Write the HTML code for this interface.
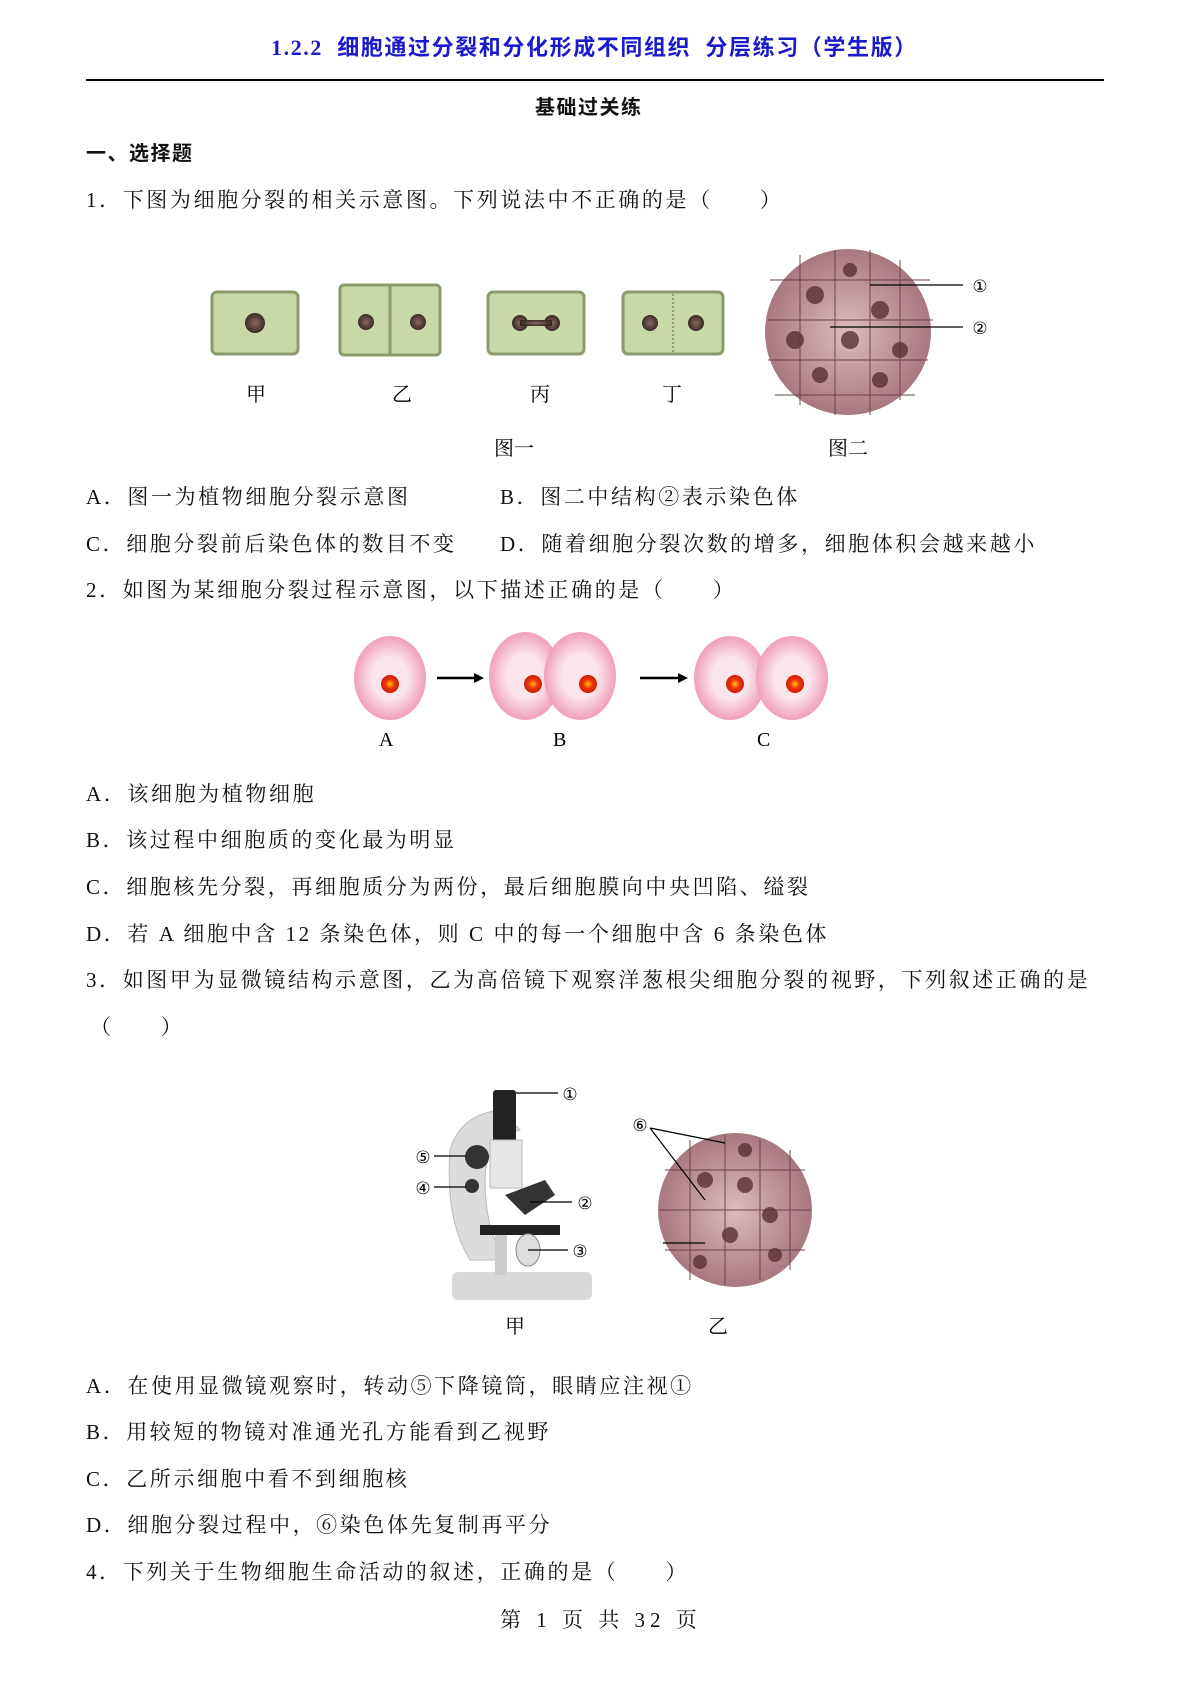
<!DOCTYPE html>
<html><head><meta charset="utf-8"><style>
body{margin:0;width:1190px;height:1682px;background:#fff;position:relative;overflow:hidden;font-family:"Liberation Serif","Noto Serif CJK SC",serif;color:#111}
.t{position:absolute;font-size:21px;white-space:nowrap;line-height:1;letter-spacing:2.6px}
.b{font-family:"Liberation Serif","Noto Sans CJK SC",sans-serif;font-weight:bold}
svg{position:absolute;left:0;top:0}
</style></head><body>
<div class="t b" style="left:271px;top:37px;color:#1a1acc;font-size:22px;letter-spacing:1.6px">1.2.2&nbsp; 细胞通过分裂和分化形成不同组织&nbsp; 分层练习（学生版）</div>
<div style="position:absolute;left:86px;top:79px;width:1018px;height:1.5px;background:#000"></div>
<div class="t b" style="left:535px;top:98px;font-size:20px;letter-spacing:1.5px">基础过关练</div>
<div class="t b" style="left:86px;top:144px;font-size:20px;letter-spacing:1.5px">一、选择题</div>
<div class="t" style="left:86px;top:190px">1．下图为细胞分裂的相关示意图。下列说法中不正确的是（　　）</div>

<svg width="1190" height="1682">
<defs>
<radialGradient id="nu"><stop offset="0" stop-color="#8a6a60"/><stop offset="1" stop-color="#3a2a25"/></radialGradient>
<radialGradient id="rn"><stop offset="0" stop-color="#ffcc00"/><stop offset="0.5" stop-color="#ee3311"/><stop offset="1" stop-color="#cc2200"/></radialGradient>
<radialGradient id="pk"><stop offset="0.5" stop-color="#fbe4ec"/><stop offset="1" stop-color="#f0a0b8"/></radialGradient>
<radialGradient id="mc"><stop offset="0" stop-color="#dcbcbc"/><stop offset="1" stop-color="#a87880"/></radialGradient>
</defs>
<g stroke="#8a9a6a" stroke-width="3" fill="#c8d8a8">
<rect x="212" y="292" width="86" height="62" rx="5"/>
<rect x="340" y="285" width="100" height="70" rx="4"/><line x1="390" y1="286" x2="390" y2="354"/>
<rect x="488" y="292" width="96" height="62" rx="5"/>
<rect x="623" y="292" width="100" height="62" rx="5"/>
</g>
<line x1="673" y1="294" x2="673" y2="352" stroke="#666" stroke-dasharray="2,2"/>
<g fill="url(#nu)">
<circle cx="255" cy="323" r="10"/><circle cx="366" cy="322" r="8"/><circle cx="418" cy="322" r="8"/>
<circle cx="520" cy="323" r="8"/><circle cx="552" cy="323" r="8"/><rect x="520" y="320" width="32" height="6"/>
<circle cx="650" cy="323" r="8"/><circle cx="696" cy="323" r="8"/>
</g>
<circle cx="848" cy="332" r="83" fill="url(#mc)"/>
<g stroke="#6a4048" stroke-width="1.2" fill="none" opacity="0.8">
<path d="M770 280h160M768 320h165M768 360h160M775 395h140M800 255v150M835 250v165M870 250v165M900 260v140"/>
</g>
<g fill="#5a3038" opacity="0.8"><circle cx="815" cy="295" r="9"/><circle cx="880" cy="310" r="9"/><circle cx="850" cy="340" r="9"/><circle cx="820" cy="375" r="8"/><circle cx="880" cy="380" r="8"/><circle cx="795" cy="340" r="9"/><circle cx="850" cy="270" r="7"/><circle cx="900" cy="350" r="8"/></g>
<g stroke="#000" stroke-width="1.2"><line x1="870" y1="285" x2="963" y2="285"/><line x1="830" y1="327" x2="963" y2="327"/></g>
<g font-size="17" text-anchor="middle" fill="#000" font-family="DejaVu Sans"><text x="980" y="292">①</text><text x="980" y="334">②</text></g>
<g font-size="20" fill="#000" font-family="Liberation Serif,Noto Serif CJK SC,serif">
<text x="246" y="401">甲</text><text x="392" y="401">乙</text><text x="530" y="401">丙</text><text x="662" y="401">丁</text>
<text x="494" y="455">图一</text><text x="828" y="455">图二</text>
</g>
<g fill="url(#pk)">
<ellipse cx="390" cy="678" rx="36" ry="42"/>
<ellipse cx="525" cy="676" rx="36" ry="44"/><ellipse cx="580" cy="676" rx="36" ry="44"/>
<ellipse cx="730" cy="678" rx="36" ry="42"/><ellipse cx="792" cy="678" rx="36" ry="42"/>
</g>
<g fill="url(#rn)"><circle cx="390" cy="684" r="9"/><circle cx="533" cy="684" r="9"/><circle cx="588" cy="684" r="9"/><circle cx="735" cy="684" r="9"/><circle cx="795" cy="684" r="9"/></g>
<g stroke="#000" stroke-width="2.5"><line x1="437" y1="678" x2="476" y2="678"/><line x1="640" y1="678" x2="680" y2="678"/></g>
<g fill="#000"><polygon points="484,678 474,673 474,683"/><polygon points="688,678 678,673 678,683"/></g>
<g font-size="20" fill="#000" font-family="Liberation Serif,serif"><text x="379" y="746">A</text><text x="553" y="746">B</text><text x="757" y="746">C</text></g>
<g>
<rect x="452" y="1272" width="140" height="28" rx="6" fill="#d8d8d8"/>
<path d="M470 1260 q-25 -40 -20 -110 q10 -35 50 -40 l20 20 q-35 10 -35 50 q0 50 20 80z" fill="#dcdcdc" stroke="#bbb"/>
<rect x="493" y="1090" width="23" height="55" rx="3" fill="#222"/>
<rect x="490" y="1140" width="32" height="48" fill="#e6e6e6" stroke="#bbb"/>
<circle cx="477" cy="1157" r="12" fill="#333"/>
<circle cx="472" cy="1186" r="7" fill="#333"/>
<path d="M505 1195 l40 -15 l10 15 l-30 20z" fill="#333"/>
<rect x="480" y="1225" width="80" height="10" fill="#222"/>
<ellipse cx="528" cy="1250" rx="12" ry="16" fill="#ddd" stroke="#888"/>
<rect x="495" y="1235" width="12" height="40" fill="#ccc"/>
</g>
<g stroke="#000" stroke-width="1.2"><line x1="516" y1="1093" x2="558" y2="1093"/><line x1="434" y1="1156" x2="466" y2="1156"/><line x1="434" y1="1187" x2="466" y2="1187"/><line x1="530" y1="1202" x2="572" y2="1202"/><line x1="528" y1="1250" x2="568" y2="1250"/></g>
<g font-size="17" text-anchor="middle" fill="#000" font-family="DejaVu Sans"><text x="570" y="1100">①</text><text x="585" y="1209">②</text><text x="580" y="1257">③</text><text x="423" y="1194">④</text><text x="423" y="1163">⑤</text><text x="640" y="1131">⑥</text></g>
<circle cx="735" cy="1210" r="77" fill="url(#mc)"/>
<g stroke="#6a4048" stroke-width="1.2" fill="none" opacity="0.8"><path d="M665 1170h140M660 1210h150M665 1250h140M690 1140v140M725 1135v150M760 1140v140M790 1150v120"/></g>
<g fill="#5a3038" opacity="0.8"><circle cx="705" cy="1180" r="8"/><circle cx="745" cy="1185" r="8"/><circle cx="770" cy="1215" r="8"/><circle cx="730" cy="1235" r="8"/><circle cx="700" cy="1262" r="7"/><circle cx="775" cy="1255" r="7"/><circle cx="745" cy="1150" r="7"/></g>
<g stroke="#000" stroke-width="1.2"><line x1="650" y1="1128" x2="725" y2="1143"/><line x1="650" y1="1128" x2="705" y2="1200"/><line x1="663" y1="1243" x2="705" y2="1243"/></g>
<g font-size="20" fill="#000" font-family="Liberation Serif,Noto Serif CJK SC,serif"><text x="505" y="1333">甲</text><text x="708" y="1333">乙</text></g>
</svg>

<div class="t" style="left:86px;top:487px">A．图一为植物细胞分裂示意图</div>
<div class="t" style="left:500px;top:487px">B．图二中结构②表示染色体</div>
<div class="t" style="left:86px;top:534px">C．细胞分裂前后染色体的数目不变</div>
<div class="t" style="left:500px;top:534px">D．随着细胞分裂次数的增多，细胞体积会越来越小</div>
<div class="t" style="left:86px;top:580px">2．如图为某细胞分裂过程示意图，以下描述正确的是（　　）</div>
<div class="t" style="left:86px;top:784px">A．该细胞为植物细胞</div>
<div class="t" style="left:86px;top:830px">B．该过程中细胞质的变化最为明显</div>
<div class="t" style="left:86px;top:877px">C．细胞核先分裂，再细胞质分为两份，最后细胞膜向中央凹陷、缢裂</div>
<div class="t" style="left:86px;top:924px">D．若 A 细胞中含 12 条染色体，则 C 中的每一个细胞中含 6 条染色体</div>
<div class="t" style="left:86px;top:970px">3．如图甲为显微镜结构示意图，乙为高倍镜下观察洋葱根尖细胞分裂的视野，下列叙述正确的是</div>
<div class="t" style="left:90px;top:1017px">（　　）</div>
<div class="t" style="left:86px;top:1376px">A．在使用显微镜观察时，转动⑤下降镜筒，眼睛应注视①</div>
<div class="t" style="left:86px;top:1422px">B．用较短的物镜对准通光孔方能看到乙视野</div>
<div class="t" style="left:86px;top:1469px">C．乙所示细胞中看不到细胞核</div>
<div class="t" style="left:86px;top:1515px">D．细胞分裂过程中，⑥染色体先复制再平分</div>
<div class="t" style="left:86px;top:1562px">4．下列关于生物细胞生命活动的叙述，正确的是（　　）</div>
<div class="t" style="left:500px;top:1610px;letter-spacing:5px">第 1 页 共 32 页</div>
</body></html>
